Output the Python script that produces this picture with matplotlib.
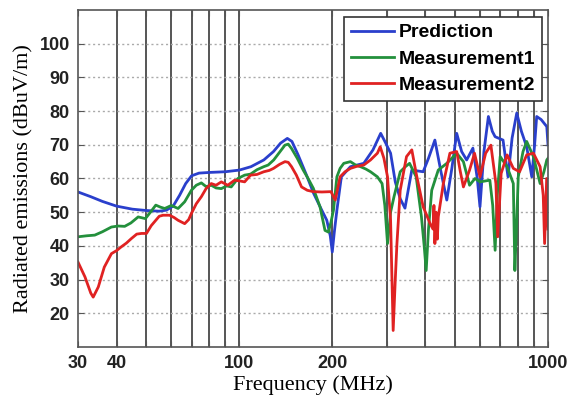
import matplotlib
matplotlib.use("Agg")
import matplotlib.pyplot as plt

# Prediction (blue)
pred_f = [30, 33, 36, 40, 45, 50, 55, 58, 61, 64, 67, 70, 74, 80, 90, 100, 109, 120, 129, 136,
          143, 148, 155, 165, 174, 184, 192, 197, 200, 203, 207, 214, 229, 253, 271, 287, 298,
          309, 320, 332, 344, 362, 394, 410, 430, 450, 470, 488, 506, 525, 545, 571, 590, 602,
          620, 641, 660, 674, 715, 742, 765, 792, 820, 853, 886, 905, 919, 950, 991, 1000]
pred_v = [56.0, 54.6, 53.2, 51.8, 50.9, 50.5, 50.3, 50.6, 51.8, 55.0, 58.5, 60.8, 61.6, 61.8,
          62.0, 62.5, 63.5, 65.5, 68.0, 70.5, 71.9, 71.0, 67.0, 61.0, 55.6, 51.0, 47.6, 43.0,
          38.2, 44.0, 50.6, 60.5, 63.5, 64.5, 68.5, 73.4, 70.5, 67.5, 59.0, 54.0, 51.2, 62.5,
          62.0, 66.0, 71.4, 62.0, 53.6, 63.0, 73.4, 68.0, 65.5, 69.0, 60.0, 51.6, 68.0, 78.4,
          74.0, 72.4, 71.4, 60.5, 72.0, 79.4, 74.0, 69.4, 60.5, 70.0, 78.4, 77.5, 75.4, 70.0]

# Measurement1 (green)
m1_f = [30, 32, 34, 36, 38.5, 40.5, 42.5, 44.5, 47, 49.6, 51.5, 53.6, 55.5, 57.3, 60.2, 63.3,
        66.5, 69.9, 72.5, 75.3, 78, 81.1, 84, 87.4, 91, 94.1, 98.9, 104, 108.7, 114, 119.9, 124,
        129.2, 135, 140.5, 144, 147.6, 154, 161, 167, 173.6, 182.5, 189.4, 194.3, 198, 201.8,
        207, 212, 217.9, 229, 238, 247, 257, 266, 280, 290, 296, 302, 309, 317, 332, 345, 356,
        374, 389, 397, 403, 410, 420, 441, 470, 506, 532, 557, 580, 602, 648, 662, 674, 685,
        700, 737, 772, 781, 790, 801, 830, 853, 897, 943, 970, 991, 1000]
m1_v = [42.7, 43.0, 43.2, 44.2, 45.6, 45.9, 45.8, 46.8, 48.6, 48.1, 50.0, 52.1, 51.5, 51.1,
        52.0, 51.1, 53.1, 56.5, 58.0, 58.7, 57.6, 58.0, 57.2, 57.0, 57.8, 57.5, 60.0, 61.0,
        61.3, 62.6, 63.5, 64.0, 65.5, 67.8, 69.9, 70.2, 68.9, 66.0, 62.5, 60.0, 57.1, 51.6,
        44.6, 44.1, 47.0, 50.6, 60.5, 63.0, 64.5, 65.0, 64.0, 63.5, 62.8, 62.0, 60.5, 58.5,
        52.0, 40.7, 50.0, 54.6, 62.0, 63.5, 64.5, 60.5, 48.6, 40.0, 32.7, 45.0, 56.5, 62.5,
        64.5, 67.5, 65.0, 58.0, 60.0, 59.0, 59.5, 52.0, 38.7, 55.0, 66.5, 63.5, 58.5, 32.7,
        45.0, 60.5, 68.0, 71.0, 66.5, 58.5, 62.0, 65.5, 66.0]

# Measurement2 (red)
m2_f = [30, 31.6, 33, 33.6, 34.9, 36.5, 38.5, 40, 41.4, 43, 44.7, 46.5, 48.2, 50, 51.8, 53.6,
        55, 56.6, 59.4, 61.5, 63.3, 66.5, 68.5, 69.9, 72.5, 75.3, 78, 81.1, 84, 87.4, 91.7,
        96.5, 100, 104, 108.7, 114, 120, 125, 129, 135, 140.5, 144, 147.6, 153, 159, 166,
        173.6, 185, 198, 204.5, 212, 220, 229, 240, 253, 266, 280, 286, 294, 302, 309, 315,
        320, 324, 332, 348, 362, 374, 394, 405, 415, 424, 427, 430, 434, 438, 441, 458, 481,
        506, 520, 532, 557, 578, 602, 628, 653, 678, 687, 705, 737, 772, 809, 853, 897, 943,
        965, 975, 990, 1000]
m2_v = [35.2, 30.8, 26.0, 24.8, 27.8, 33.7, 37.7, 38.6, 39.7, 40.8, 42.2, 43.5, 43.7, 43.7,
        46.0, 47.6, 48.8, 49.1, 49.1, 48.4, 47.6, 46.6, 47.8, 49.6, 52.5, 54.6, 57.0, 58.5,
        58.0, 59.0, 58.0, 59.5, 59.3, 59.0, 61.0, 61.2, 62.0, 62.4, 63.0, 64.2, 65.0, 64.8,
        63.5, 61.0, 57.5, 56.5, 56.1, 56.0, 56.1, 53.6, 60.5, 62.0, 63.0, 63.6, 64.0, 65.5,
        67.5, 69.4, 66.0, 60.5, 47.6, 14.9, 30.0, 40.7, 56.5, 66.5, 68.5, 61.5, 51.6, 49.0,
        46.6, 45.0, 52.0, 40.7, 50.0, 42.0, 48.6, 58.5, 67.5, 68.0, 62.0, 57.5, 62.5, 67.5,
        60.5, 67.5, 69.9, 58.5, 42.7, 61.5, 67.0, 63.0, 62.0, 67.0, 67.5, 63.5, 55.0, 40.7,
        60.0, 45.0]

x_ticks = [30, 40, 50, 60, 70, 80, 90, 100, 200, 300, 400, 500, 600, 700, 800, 900, 1000]
x_labels = ["30", "40", "", "", "", "", "", "100", "200", "", "", "", "", "", "", "", "1000"]
y_ticks = [20, 30, 40, 50, 60, 70, 80, 90, 100]

fig = plt.figure(figsize=(5.74, 4.01), dpi=100)
ax = fig.add_axes([78 / 574, 54 / 401, 470 / 574, 337 / 401])

ax.plot(pred_f, pred_v, color="#2a3fcc", lw=2.0, label="Prediction")
ax.plot(m1_f, m1_v, color="#23903c", lw=2.0, label="Measurement1")
ax.plot(m2_f, m2_v, color="#e02222", lw=2.0, label="Measurement2")

ax.set_xscale("log")
ax.set_xlim(30, 1000)
ax.set_ylim(10, 110)
ax.set_xticks(x_ticks)
ax.set_xticklabels(x_labels)
ax.minorticks_off()
ax.set_yticks(y_ticks)

for f in x_ticks[1:-1]:
    ax.axvline(f, color="#555555", lw=1.4, zorder=0)
for v in y_ticks:
    ax.axhline(v, color="#aaaaaa", lw=1.0, ls=(0, (1.5, 2)), zorder=0)

ax.tick_params(direction="in", top=True, right=True, length=4, color="#555555",
               labelsize=13, pad=6)
for lab in ax.get_xticklabels() + ax.get_yticklabels():
    lab.set_fontfamily("Liberation Sans")
    lab.set_fontweight("bold")
    lab.set_color("#222222")
for s in ax.spines.values():
    s.set_color("#555555")
    s.set_linewidth(1.2)

ax.set_xlabel("Frequency (MHz)", fontfamily="Liberation Serif", fontsize=16, labelpad=2)
ax.set_ylabel("Radiated emissions (dBuV/m)", fontfamily="Liberation Serif", fontsize=16,
              labelpad=4)

leg = ax.legend(loc="upper right", bbox_to_anchor=(0.987, 0.979), fancybox=False,
                prop={"family": "Liberation Sans", "weight": "bold", "size": 14},
                handlelength=2.2, borderpad=0.35, labelspacing=0.45, handletextpad=0.25,
                borderaxespad=0)
leg.get_frame().set_edgecolor("#333333")
leg.get_frame().set_linewidth(1.2)
leg.get_frame().set_alpha(1)

fig.savefig("out.png", dpi=100)
